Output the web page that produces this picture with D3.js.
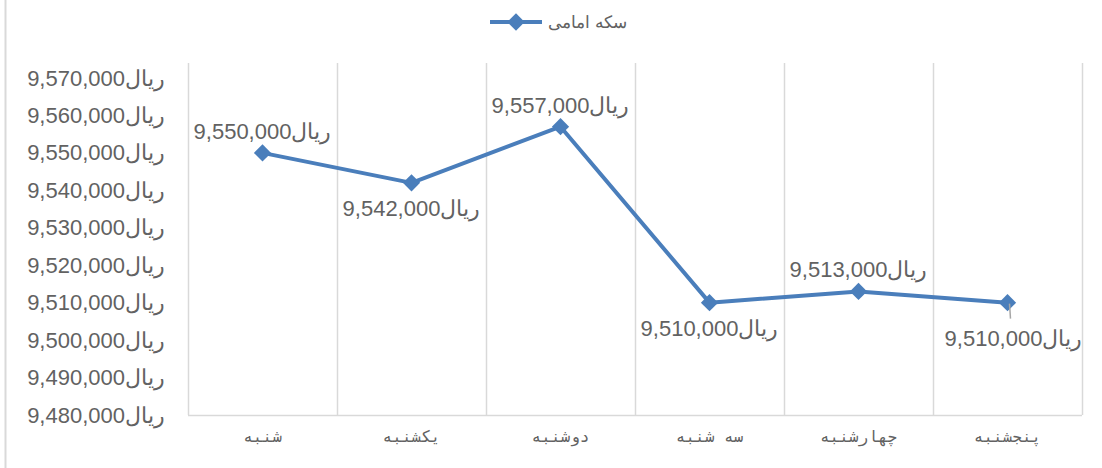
<!DOCTYPE html>
<html>
<head>
<meta charset="utf-8">
<script src="https://cdn.jsdelivr.net/npm/d3@7"></script>
<style>
  body { margin: 0; background: #fff; }
  svg { display: block; font-family: "Liberation Sans", Arial, sans-serif; }
</style>
</head>
<body>
<div id="chart"></div>
<script>
var days = ["شنبه", "یکشنبه", "دوشنبه", "سه شنبه", "چهارشنبه", "پنجشنبه"],
  prices = [9550000, 9542000, 9557000, 9510000, 9513000, 9510000],
  labelSide = ["above", "below", "above", "below", "above", "below"],
  yTicks = [9480000, 9490000, 9500000, 9510000, 9520000, 9530000, 9540000, 9550000, 9560000, 9570000],
  seriesName = "سکه امامی",
  unit = "ریال";

var w = 1102,
  h = 468,
  plotLeft = 188,
  plotRight = 1082,
  plotTop = 78,
  plotBottom = 415,
  blue = "#4a7ebb",
  grey = "#626262";

var x = d3.scaleBand().domain(days).range([plotLeft, plotRight]);
var y = d3.scaleLinear().domain([9480000, 9570000]).range([plotBottom, plotTop]);
var fmt = d3.format(",");

var chart = d3.select("#chart").
append("svg").
attr("width", w).
attr("height", h);

// outer border (only left edge visible)
chart.append("line").
attr("x1", 5.5).attr("x2", 5.5).
attr("y1", 0).attr("y2", h).
attr("stroke", "#d9d9d9").
attr("stroke-width", 2);

// vertical gridlines
var gridX = days.map(function(d) { return x(d); }).concat([plotRight]);
chart.append("g").selectAll("line").data(gridX).enter().append("line").
attr("x1", function(d) { return Math.round(d) + 0.5; }).
attr("x2", function(d) { return Math.round(d) + 0.5; }).
attr("y1", plotTop - 15).attr("y2", plotBottom).
attr("stroke", "#d9d9d9").
attr("stroke-width", 1.5);

// bottom axis line
chart.append("line").
attr("x1", plotLeft).attr("x2", plotRight).
attr("y1", plotBottom + 0.5).attr("y2", plotBottom + 0.5).
attr("stroke", "#d9d9d9").
attr("stroke-width", 1.5);

// y axis labels
var yAxis = d3.axisLeft(y).tickValues(yTicks).tickSize(0).tickPadding(0).
tickFormat(function(d) { return fmt(d) + unit; });
var yg = chart.append("g").attr("transform", "translate(165,0)").call(yAxis);
yg.select(".domain").remove();
yg.selectAll("text").
attr("fill", grey).
attr("font-size", 22).
attr("font-family", "Liberation Sans, Arial, sans-serif").
attr("direction", "ltr");

// x axis labels
var xAxis = d3.axisBottom(x).tickSize(0).tickPadding(0);
var xg = chart.append("g").attr("transform", "translate(0," + (plotBottom + 16) + ")").call(xAxis);
xg.select(".domain").remove();
xg.selectAll("text").
attr("fill", grey).
attr("font-size", 16).
attr("letter-spacing", 3).
attr("font-family", "DejaVu Sans Mono, monospace");

// series line
var line = d3.line().
x(function(d, i) { return x(days[i]) + x.bandwidth() / 2; }).
y(function(d) { return y(d); });

chart.append("path").
attr("d", line(prices)).
attr("fill", "none").
attr("stroke", blue).
attr("stroke-width", 4).
attr("stroke-linejoin", "round");

var diamond = d3.symbol().type(d3.symbolDiamond2).size(190);

chart.append("g").selectAll("path").data(prices).enter().append("path").
attr("d", diamond).
attr("transform", function(d, i) {
  return "translate(" + (x(days[i]) + x.bandwidth() / 2) + "," + y(d) + ")";
}).
attr("fill", blue);

// data labels
chart.append("g").selectAll("text").data(prices).enter().append("text").
attr("x", function(d, i) {
  return x(days[i]) + x.bandwidth() / 2 + (i == 5 ? 6 : 0);
}).
attr("y", function(d, i) {
  if (i == 5) return y(d) + 43;
  return labelSide[i] == "above" ? y(d) - 14 : y(d) + 33;
}).
attr("text-anchor", "middle").
attr("direction", "ltr").
attr("fill", grey).
attr("font-size", 22).
text(function(d) { return fmt(d) + unit; });

// leader line for last label
var lx = x(days[5]) + x.bandwidth() / 2 + 2;
chart.append("line").
attr("x1", lx).attr("x2", lx + 1).
attr("y1", y(prices[5]) + 1).attr("y2", y(prices[5]) + 16).
attr("stroke", "#a6a6a6").
attr("stroke-width", 1.5);

// legend
var legend = chart.append("g").attr("transform", "translate(0,22)");
legend.append("line").
attr("x1", 490).attr("x2", 542).
attr("y1", 0).attr("y2", 0).
attr("stroke", blue).
attr("stroke-width", 4);
legend.append("path").
attr("d", diamond).
attr("transform", "translate(516,0)").
attr("fill", blue);
legend.append("text").
attr("x", 548).
attr("y", 6).
attr("fill", grey).
attr("font-size", 17).
attr("direction", "ltr").
text(seriesName);
</script>
</body>
</html>
